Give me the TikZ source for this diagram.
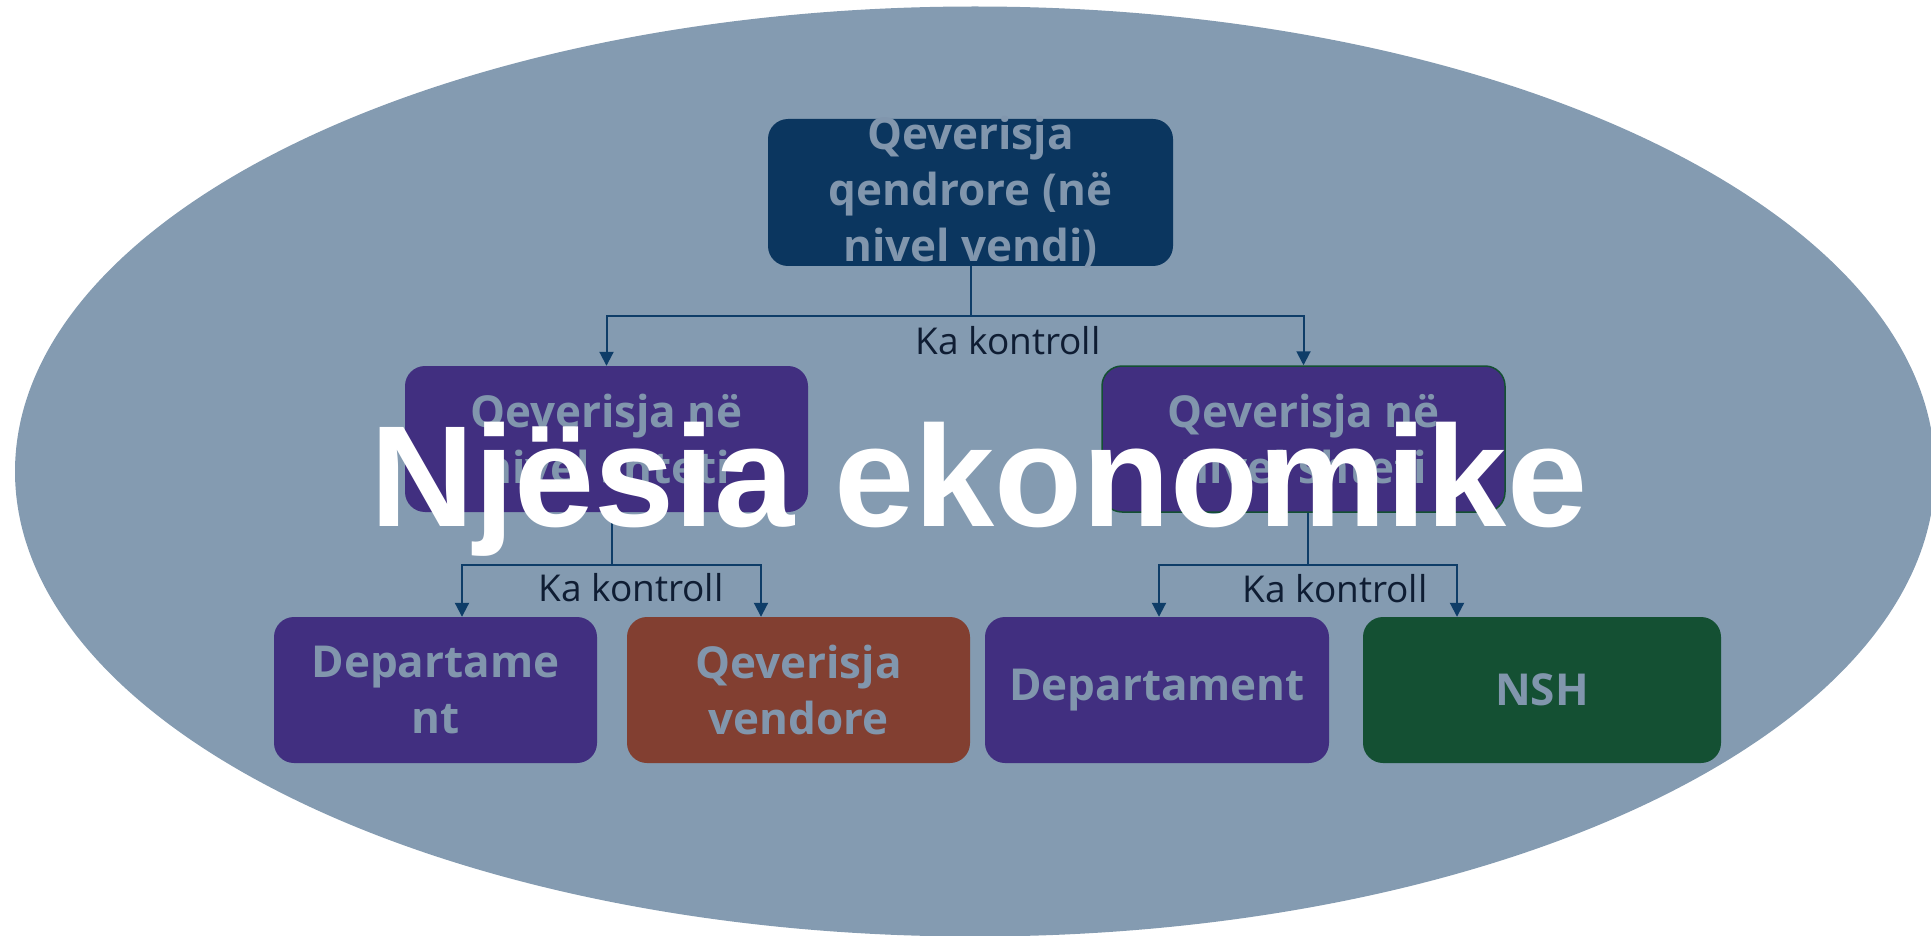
\documentclass[tikz,border=0pt]{standalone}
\usepackage{fontspec}
\setmainfont{Open Sans}
\newfontfamily\bigfont{Liberation Sans}
\usetikzlibrary{arrows.meta}

\definecolor{ovalfill}{HTML}{849BB1}
\definecolor{txtgrey}{HTML}{8196AD}
\definecolor{navybox}{HTML}{0B365F}
\definecolor{purplebox}{HTML}{412F80}
\definecolor{brownbox}{HTML}{823F31}
\definecolor{greenbox}{HTML}{145033}
\definecolor{linkblue}{HTML}{0E3D68}
\definecolor{labeldark}{HTML}{0F1D33}

\begin{document}
\begin{tikzpicture}[x=1pt,y=-1pt]

% Define box, text and connector styles
\tikzstyle{unitbox} = [rectangle, rounded corners=20pt, inner sep=0pt,
    minimum height=146pt]
\tikzstyle{unittext} = [text=txtgrey, inner sep=0pt, align=center,
    font=\bfseries\fontsize{44}{56}\selectfont]
\tikzstyle{link} = [draw=linkblue, line width=2pt]
\tikzstyle{linkarrow} = [link, -{Triangle[width=14pt,length=14pt]}]
\tikzstyle{ctrl} = [text=labeldark, inner sep=0pt,
    font=\fontsize{37}{44}\selectfont]

\clip (0,0) rectangle (1931,936);
\fill[ovalfill] (975,471.5) ellipse [x radius=960, y radius=465];

% the three levels
\node[unitbox, fill=navybox, minimum width=405pt, minimum height=147pt,
    label={[unittext]center:{Qeverisja\\qendrore (në\\nivel vendi)}}] (central) at (970.5,192.5) {};

\node[unitbox, fill=purplebox, minimum width=403pt,
    label={[unittext]center:{Qeverisja në\\nivel shteti}}] (stateL) at (606.5,439) {};
\node[unitbox, fill=purplebox, draw=greenbox, line width=1.5pt, minimum width=403pt,
    label={[unittext]center:{Qeverisja në\\nivel shteti}}] (stateR) at (1303.5,439) {};

\node[unitbox, fill=purplebox, minimum width=323pt,
    label={[unittext]center:{Departame\\nt}}] (deptL) at (435.5,690) {};
\node[unitbox, fill=brownbox, minimum width=343pt,
    label={[unittext]center:{Qeverisja\\vendore}}] (local) at (798.5,690) {};
\node[unitbox, fill=purplebox, minimum width=344pt,
    label={[unittext]center:Departament}] (deptR) at (1157,690) {};
\node[unitbox, fill=greenbox, minimum width=358pt,
    label={[unittext]center:NSH}] (nsh) at (1542,690) {};

% control links
\coordinate (split1) at (central.south |- 0,316);
\draw[link] (central.south) -- (split1);
\draw[linkarrow] (split1) -| (stateL.north);
\draw[linkarrow] (split1) -| (stateR.north);
\node[ctrl] (ctrl1) at (1008,341) {Ka kontroll};

\coordinate (split2) at (612,565);
\draw[link] (stateL.south -| split2) -- (split2);
\draw[linkarrow] (split2) -| (deptL.north -| 462,0);
\draw[linkarrow] (split2) -| (local.north -| 761,0);
\node[ctrl] (ctrl2) at (631,588) {Ka kontroll};

\coordinate (split3) at (1308,565);
\draw[link] (stateR.south -| split3) -- (split3);
\draw[linkarrow] (split3) -| (deptR.north -| 1159,0);
\draw[linkarrow] (split3) -| (nsh.north -| 1457,0);
\node[ctrl] (ctrl3) at (1335,589) {Ka kontroll};

\node[text=white, inner sep=0pt, anchor=base,
    font=\bigfont\bfseries\fontsize{144}{160}\selectfont] (title) at (979,526) {Njësia ekonomike};
\end{tikzpicture}
\end{document}
